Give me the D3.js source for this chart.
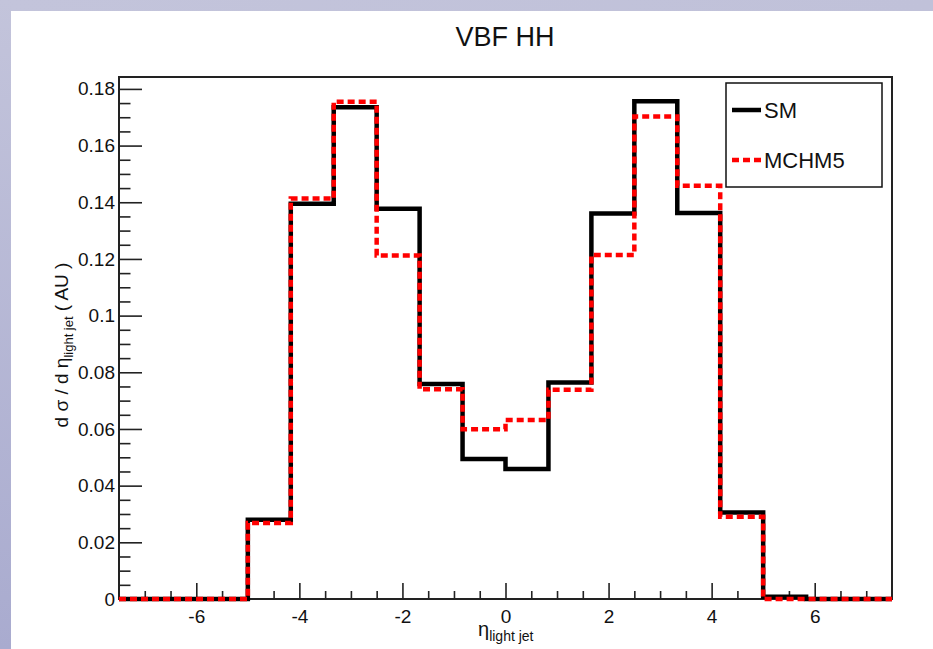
<!DOCTYPE html>
<html>
<head>
<meta charset="utf-8">
<script src="https://cdn.jsdelivr.net/npm/d3@7"></script>
<style>
  html, body { margin: 0; padding: 0; background: #fff; }
  svg { display: block; font-family: "Liberation Sans", Arial, Helvetica, sans-serif; }
</style>
</head>
<body>
<svg id="chart" width="933" height="649"></svg>
<script>
// Histogram binning: 18 bins over eta in [-7.5, 7.5]
const etaMin = -7.5, etaMax = 7.5, nBins = 18;

// Normalised d sigma / d eta per bin
const smValues    = [0, 0, 0, 0.0280, 0.1395, 0.1735, 0.1377, 0.0759, 0.0494,
                     0.0459, 0.0764, 0.1360, 0.1756, 0.1362, 0.0305, 0.0008, 0, 0];
const mchm5Values = [0, 0, 0, 0.0268, 0.1413, 0.1755, 0.1212, 0.0740, 0.0599,
                     0.0632, 0.0738, 0.1214, 0.1703, 0.1458, 0.0290, 0, 0, 0];

const seriesNames = ["SM", "MCHM5"];

// Axis ticks and labels
const xMajorTicks  = [-6, -4, -2, 0, 2, 4, 6];
const xMajorLabels = ["-6", "-4", "-2", "0", "2", "4", "6"];
const xMinorTicks  = [-7, -6.5, -5.5, -5, -4.5, -3.5, -3, -2.5, -1.5, -1, -0.5,
                      0.5, 1, 1.5, 2.5, 3, 3.5, 4.5, 5, 5.5, 6.5, 7];
const yMajorTicks  = [0, 0.02, 0.04, 0.06, 0.08, 0.1, 0.12, 0.14, 0.16, 0.18];
const yMajorLabels = ["0", "0.02", "0.04", "0.06", "0.08", "0.1", "0.12", "0.14", "0.16", "0.18"];
const yMinorTicks  = d3.range(0, 37).map(i => +(i * 0.005).toFixed(3))
                       .filter(v => !yMajorTicks.includes(v));

const svg = d3.select("#chart");
const W = 933, H = 649;

// Canvas background with a tinted border strip
const defs = svg.append("defs");
const gl = defs.append("linearGradient").attr("id", "leftBand")
  .attr("x1", 0).attr("y1", 0).attr("x2", 0).attr("y2", 1);
gl.append("stop").attr("offset", "0%").attr("stop-color", "#c3c4db");
gl.append("stop").attr("offset", "100%").attr("stop-color", "#a9abcf");
const gt = defs.append("linearGradient").attr("id", "topBand")
  .attr("x1", 0).attr("y1", 0).attr("x2", 1).attr("y2", 0);
gt.append("stop").attr("offset", "0%").attr("stop-color", "#c3c4db");
gt.append("stop").attr("offset", "100%").attr("stop-color", "#c0c1d9");

svg.append("rect").attr("width", W).attr("height", H).attr("fill", "#fff");
svg.append("rect").attr("x", 0).attr("y", 0).attr("width", W).attr("height", 11).attr("fill", "url(#topBand)");
svg.append("rect").attr("x", 0).attr("y", 0).attr("width", 11).attr("height", H).attr("fill", "url(#leftBand)");

// Frame geometry
const frameL = 119, frameR = 892, frameT = 77, frameB = 599;

const x = d3.scaleLinear().domain([etaMin, etaMax]).range([frameL, frameR]);
const y = d3.scaleLinear().domain([0, 0.1842]).range([frameB, frameT]);

// Title
svg.append("text")
  .attr("x", 505).attr("y", 46)
  .attr("text-anchor", "middle")
  .attr("font-size", 27)
  .attr("fill", "#111")
  .text("VBF HH");

// Axes with ticks pointing into the frame
const gx = svg.append("g").attr("transform", `translate(0,${frameB})`);
gx.call(d3.axisBottom(x).tickValues(xMinorTicks).tickSize(-8).tickFormat(""));
gx.call(g => g.select(".domain").remove());
const gxMaj = svg.append("g").attr("transform", `translate(0,${frameB})`);
gxMaj.call(d3.axisBottom(x).tickValues(xMajorTicks).tickSize(-16).tickPadding(6)
  .tickFormat((d, i) => xMajorLabels[i]));
gxMaj.call(g => g.select(".domain").remove());
gxMaj.selectAll("text").attr("font-size", 19).attr("fill", "#111").attr("dy", "0.95em")
  .style("font-family", "'Liberation Sans', Arial, sans-serif");

const gy = svg.append("g").attr("transform", `translate(${frameL},0)`);
gy.call(d3.axisLeft(y).tickValues(yMinorTicks).tickSize(-11.5).tickFormat(""));
gy.call(g => g.select(".domain").remove());
const gyMaj = svg.append("g").attr("transform", `translate(${frameL},0)`);
gyMaj.call(d3.axisLeft(y).tickValues(yMajorTicks).tickSize(-23).tickPadding(4)
  .tickFormat((d, i) => yMajorLabels[i]));
gyMaj.call(g => g.select(".domain").remove());
gyMaj.selectAll("text").attr("font-size", 19).attr("fill", "#111")
  .style("font-family", "'Liberation Sans', Arial, sans-serif");

svg.selectAll(".tick line").attr("stroke", "#222").attr("stroke-width", 1.6);

// Frame
svg.append("rect")
  .attr("x", frameL).attr("y", frameT)
  .attr("width", frameR - frameL).attr("height", frameB - frameT)
  .attr("fill", "none").attr("stroke", "#222").attr("stroke-width", 2);

// Step outlines
const edges = d3.range(nBins + 1).map(i => etaMin + i * (etaMax - etaMin) / nBins);
function stepPoints(values) {
  const pts = values.map((v, i) => [edges[i], v]);
  pts.push([edges[nBins], values[nBins - 1]]);
  return pts;
}
const stepLine = d3.line()
  .x(d => x(d[0])).y(d => y(d[1]))
  .curve(d3.curveStepAfter);

svg.append("path")
  .attr("d", stepLine(stepPoints(smValues)))
  .attr("fill", "none").attr("stroke", "#000")
  .attr("stroke-width", 4.5).attr("stroke-linejoin", "miter");

svg.append("path")
  .attr("d", stepLine(stepPoints(mchm5Values)))
  .attr("fill", "none").attr("stroke", "#ff0000")
  .attr("stroke-width", 4.5).attr("stroke-dasharray", "7,4");

// Legend
const lg = svg.append("g");
lg.append("rect").attr("x", 726).attr("y", 83).attr("width", 156).attr("height", 104)
  .attr("fill", "#fff").attr("stroke", "#111").attr("stroke-width", 1.5);
const legendStyles = [
  { color: "#000", dash: null, y: 110 },
  { color: "#ff0000", dash: "7,4", y: 160 }
];
seriesNames.forEach((name, i) => {
  const s = legendStyles[i];
  lg.append("line").attr("x1", 732).attr("x2", 761).attr("y1", s.y).attr("y2", s.y)
    .attr("stroke", s.color).attr("stroke-width", 4.5)
    .attr("stroke-dasharray", s.dash);
  lg.append("text").attr("x", 764).attr("y", s.y + 8)
    .attr("font-size", 22).attr("fill", "#111").text(name);
});

// Axis titles
const xt = svg.append("text").attr("x", 478).attr("y", 636)
  .attr("font-size", 20).attr("fill", "#111");
xt.append("tspan").text("η");
xt.append("tspan").attr("dy", 5).attr("font-size", 14).text("light jet");

const yt = svg.append("text")
  .attr("transform", "translate(68,345) rotate(-90)")
  .attr("text-anchor", "middle")
  .attr("font-size", 19).attr("fill", "#111");
yt.append("tspan").text("d σ / d η");
yt.append("tspan").attr("dy", 5).attr("font-size", 13).text("light jet");
yt.append("tspan").attr("dy", -5).text(" ( AU )");
</script>
</body>
</html>
